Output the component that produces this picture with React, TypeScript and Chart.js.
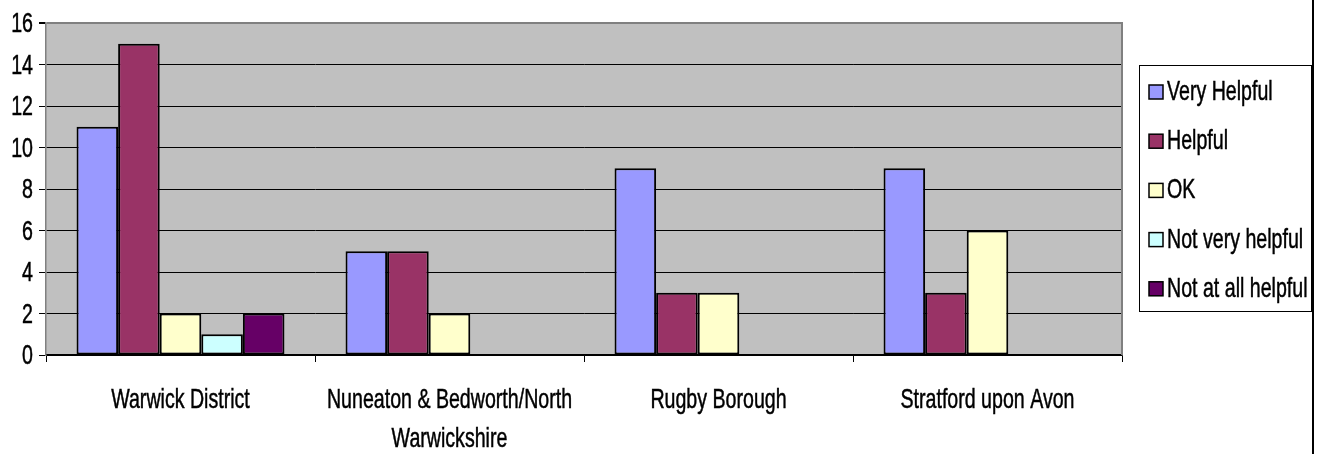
import React, { useEffect, useRef } from "react";
import { Chart, registerables } from "chart.js";

Chart.register(...registerables);

const categories: (string | string[])[] = [
  "Warwick District",
  ["Nuneaton & Bedworth/North", "Warwickshire"],
  "Rugby Borough",
  "Stratford upon Avon",
];
const seriesNames = ["Very Helpful", "Helpful", "OK", "Not very helpful", "Not at all helpful"];
const veryHelpful = [11, 5, 9, 9];
const helpful = [15, 5, 3, 3];
const ok = [2, 2, 3, 6];
const notVeryHelpful: (number | null)[] = [1, null, null, null];
const notAtAllHelpful: (number | null)[] = [2, null, null, null];
const yMin = 0;
const yMax = 16;
const yStep = 2;

const colors = ["#9999FF", "#993366", "#FFFFCC", "#CCFFFF", "#660066"];

const FONT = '28px "Liberation Sans", Arial, sans-serif';
const SX = 0.7;

function drawText(ctx: CanvasRenderingContext2D, text: string, x: number, y: number, align: CanvasTextAlign) {
  ctx.save();
  ctx.translate(x, y);
  ctx.scale(SX, 1);
  ctx.font = FONT;
  ctx.fillStyle = "#000";
  ctx.strokeStyle = "#000";
  ctx.lineWidth = 0.5;
  ctx.textAlign = align;
  ctx.textBaseline = "alphabetic";
  ctx.fillText(text, 0, 0);
  ctx.strokeText(text, 0, 0);
  ctx.restore();
}

const decorPlugin = {
  id: "decor",
  beforeDraw(chart: any) {
    const { ctx, chartArea: a } = chart;
    ctx.save();
    ctx.fillStyle = "#C0C0C0";
    ctx.fillRect(a.left, a.top, a.right - a.left, a.bottom - a.top);
    ctx.restore();
  },
  afterDraw(chart: any) {
    const { ctx, chartArea: a } = chart;
    ctx.save();
    ctx.strokeStyle = "#808080";
    ctx.lineWidth = 2;
    ctx.beginPath();
    ctx.moveTo(a.right, a.top - 1);
    ctx.lineTo(a.right, a.bottom);
    ctx.stroke();
    ctx.restore();

    const ys = chart.scales.y;
    for (let v = yMin; v <= yMax; v += yStep) {
      const py = ys.getPixelForValue(v);
      drawText(ctx, String(v), 33, py + 9, "right");
    }
    const xs = chart.scales.x;
    categories.forEach((c, i) => {
      const px = xs.getPixelForValue(i);
      const lines = Array.isArray(c) ? c : [c];
      lines.forEach((l, j) => drawText(ctx, l, px, 408 + j * 39, "center"));
    });

    ctx.save();
    ctx.fillStyle = "#fff";
    ctx.fillRect(1139.5, 65.5, 172, 246);
    ctx.strokeStyle = "#000";
    ctx.lineWidth = 1;
    ctx.strokeRect(1139.5, 65.5, 172, 246);
    ctx.restore();
    chart.data.datasets.forEach((ds: any, i: number) => {
      const base = 100 + i * 49.2;
      ctx.save();
      ctx.fillStyle = ds.backgroundColor;
      ctx.fillRect(1149, base - 15, 14, 14);
      ctx.strokeStyle = "#000";
      ctx.lineWidth = 1.5;
      ctx.strokeRect(1149, base - 15, 14, 14);
      ctx.restore();
      drawText(ctx, ds.label, 1167, base, "left");
    });

    ctx.save();
    ctx.strokeStyle = "#000";
    ctx.lineWidth = 2;
    ctx.beginPath();
    ctx.moveTo(1313, 0);
    ctx.lineTo(1313, 454);
    ctx.stroke();
    ctx.restore();
  },
};

export default function App() {
  const ref = useRef<HTMLCanvasElement>(null);
  useEffect(() => {
    document.body.style.margin = "0";
    const series = [veryHelpful, helpful, ok, notVeryHelpful, notAtAllHelpful];
    const chart = new Chart(ref.current!, {
      type: "bar",
      data: {
        labels: categories as any,
        datasets: series.map((d, i) => ({
          label: seriesNames[i],
          data: d as any,
          backgroundColor: colors[i],
          borderColor: "#000",
          borderWidth: 2,
          borderSkipped: false,
          categoryPercentage: 0.773,
          barPercentage: 1,
        })),
      },
      options: {
        animation: false,
        responsive: false,
        layout: { padding: { top: 23, right: 201, left: 0, bottom: 0 } },
        plugins: { legend: { display: false }, tooltip: { enabled: false } },
        scales: {
          x: {
            ticks: { display: false },
            grid: { drawOnChartArea: false, drawTicks: true, tickLength: 7, color: "#000", offset: true },
            border: { color: "#000", width: 1.5 },
            afterFit: (s: any) => { s.height = 99; },
          },
          y: {
            min: yMin,
            max: yMax,
            ticks: { display: false, stepSize: yStep },
            grid: {
              color: (c: any) => (c.tick && c.tick.value === yMax ? "#808080" : "#000"),
              lineWidth: (c: any) => (c.tick && c.tick.value === yMax ? 2 : 1),
              tickColor: "#000",
              tickLength: 7,
            },
            border: { color: "#808080", width: 1.5 },
            afterFit: (s: any) => { s.width = 46; },
          },
        },
      },
      plugins: [decorPlugin],
    });
    return () => chart.destroy();
  }, []);
  return (
    <div style={{ width: 1323, height: 454 }}>
      <canvas ref={ref} width={1323} height={454} style={{ display: "block", width: 1323, height: 454 }} />
    </div>
  );
}
